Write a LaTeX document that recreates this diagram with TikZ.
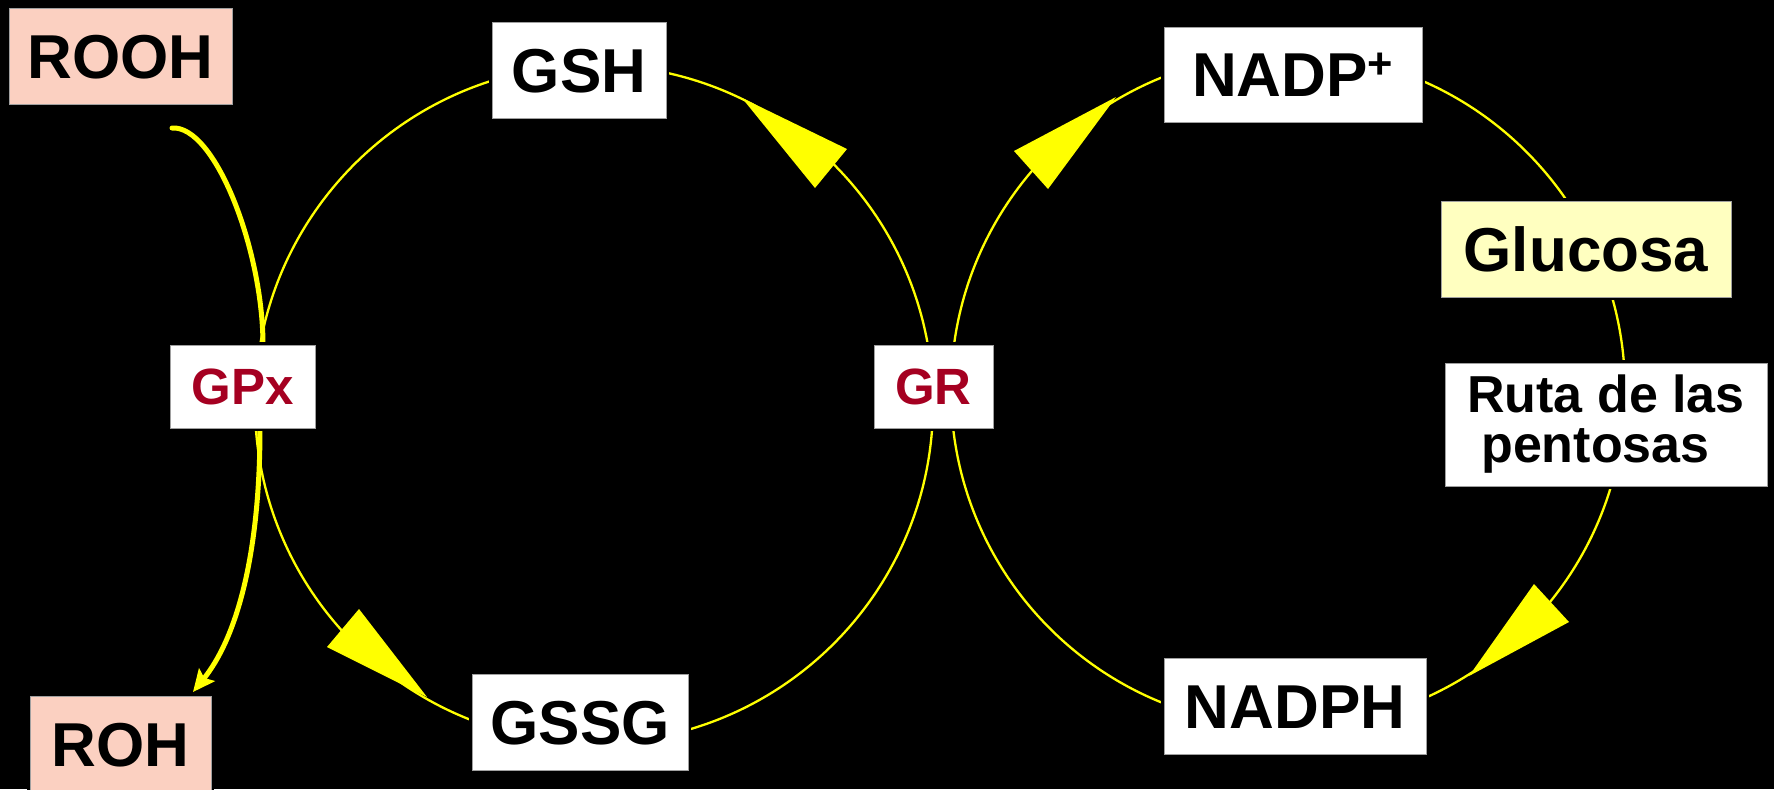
\documentclass[tikz,border=0pt]{standalone}
\usepackage{fontspec}
\setmainfont{Liberation Sans}
\usetikzlibrary{arrows.meta,calc}
\pgfdeclarelayer{back}
\pgfdeclarelayer{bg}
\pgfsetlayers{back,bg,main}
\definecolor{salmon}{HTML}{FBD0C1}
\definecolor{lightyel}{HTML}{FFFFC0}
\definecolor{enzred}{HTML}{A50021}
\definecolor{yel}{HTML}{FFFF00}
\definecolor{edge}{HTML}{A0A0A0}
\tikzset{
  boxbase/.style={draw=edge, line width=0.5pt, fill=white, inner sep=0pt, outer sep=0pt,
    preaction={draw=black, line width=3pt}},
  lab/.style={boxbase, font=\fontsize{31}{37}\selectfont\bfseries, text height=22.2pt, text depth=0pt},
  enz/.style={boxbase, text=enzred, font=\fontsize{25.5}{30}\selectfont\bfseries, text height=18.3pt, text depth=0pt},
  cyc/.style={draw=yel, line width=1.15pt},
  thickline/.style={draw=yel, line width=2.5pt},
  bigtip/.style={fill=yel},
}
\begin{document}
\begin{tikzpicture}[x=0.5pt, y=-0.5pt]
\useasboundingbox (0,0) rectangle (1774,789);
\begin{pgfonlayer}{back}
  \fill[black] (0,0) rectangle (1774,789);
\end{pgfonlayer}

% nodes
\node[lab, fill=salmon, minimum width=111.5pt, minimum height=48pt] (ROOH) at (120.5,56) {ROOH};
\node[lab, minimum width=87pt, minimum height=48pt] (GSH) at (579,70) {GSH};
\node[lab, minimum width=129pt, minimum height=47.5pt] (NADP) at (1293,74.5) {NADP\textsuperscript{+}};
\node[lab, fill=lightyel, minimum width=145pt, minimum height=48pt] (GLU) at (1586,249) {Glucosa};
\node[enz, minimum width=72.5pt, minimum height=41.5pt] (GPX) at (242.5,386.5) {GPx};
\node[enz, minimum width=59.5pt, minimum height=41.5pt] (GR) at (933.5,386.5) {GR};
\node[boxbase, minimum width=161pt, minimum height=61.5pt, align=left,
      font=\fontsize{26}{25}\selectfont\bfseries] (RUTA) at (1606,424.5) {Ruta de las\\\hspace*{7pt}pentosas};
\node[lab, minimum width=108pt, minimum height=48pt] (GSSG) at (580,722) {GSSG};
\node[lab, minimum width=131pt, minimum height=48pt] (NADPH) at (1295,706) {NADPH};
\node[lab, fill=salmon, minimum width=90.5pt, minimum height=48pt] (ROH) at (120.5,744) {ROH};

% cycles and connectors
\begin{pgfonlayer}{bg}
  \coordinate (cL) at (594,404);
  \coordinate (cR) at (1288,390);
  \draw[cyc] (cL) circle[radius=169.5pt];
  \draw[cyc] (cR) circle[radius=168.5pt];
  \coordinate (rs) at (172,128);
  \draw[thickline, line cap=round] (rs) .. controls (215,125) and (263,250) .. ($(GPX.north)+(20.5,0)$);
  \draw[thickline, -{Stealth[length=11pt,width=10pt,inset=2pt]}] ($(GPX.south)+(17.5,0)$) .. controls (260,560) and (235,640) .. ($(ROH.north east)+(-18,-4)$);
  % big arrowheads on the cycles
  \fill[bigtip] (742,98) -- (847,149) -- (815,188) -- cycle;
  \fill[bigtip] (427,697) -- (359,609) -- (327,647) -- cycle;
  \fill[bigtip] (1116,97) -- (1014,151) -- (1048,189) -- cycle;
  \fill[bigtip] (1469,676) -- (1534,584) -- (1569,622) -- cycle;
\end{pgfonlayer}
\end{tikzpicture}
\end{document}
